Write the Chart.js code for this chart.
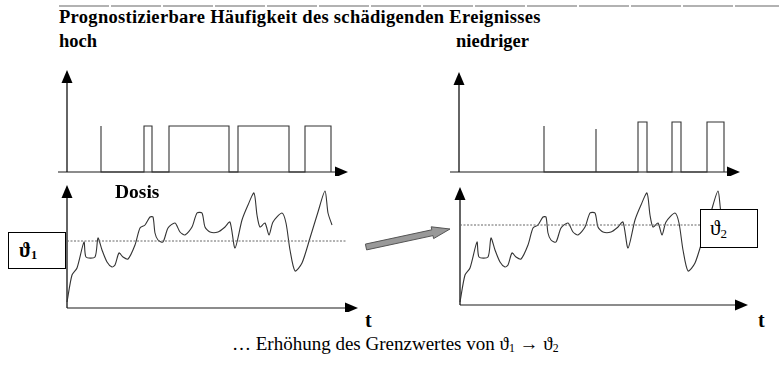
<!DOCTYPE html>
<html>
<head>
<meta charset="utf-8">
<script src="https://cdn.jsdelivr.net/npm/chart.js@4.4.1/dist/chart.umd.min.js"></script>
<style>
  html, body { margin: 0; padding: 0; background: #fff; }
  body { width: 779px; height: 367px; position: relative; overflow: hidden;
         font-family: "Liberation Serif", "Times New Roman", serif; color: #000; }
  canvas { position: absolute; }
  .lbl { position: absolute; line-height: 1; white-space: nowrap; }
  .b { font-weight: bold; }
  .box { position: absolute; border: 1px solid #000; background: #fff; box-sizing: border-box;
         display: flex; align-items: center; }
  sub { font-size: 0.62em; vertical-align: -0.2em; line-height: 0; }
  svg { position: absolute; left: 0; top: 0; }
</style>
</head>
<body>

<svg width="779" height="367">
  <line x1="59" y1="6" x2="779" y2="6" stroke="#999" stroke-width="1.5" stroke-dasharray="50 2"/>
  <polygon points="365.4,244.1 431.8,229.8 431.2,226.8 450,229 433.6,238.6 433,235.6 366.6,249.9"
           fill="#999" stroke="#555" stroke-width="1"/>
</svg>

<canvas id="pulseHigh"></canvas>
<canvas id="pulseLow"></canvas>
<canvas id="doseHigh"></canvas>
<canvas id="doseLow"></canvas>

<div class="lbl b" style="left:59px;top:7.5px;font-size:18.5px;letter-spacing:0.3px;">Prognostizierbare Häufigkeit des schädigenden Ereignisses</div>
<div class="lbl b" style="left:59px;top:31.5px;font-size:18.5px;">hoch</div>
<div class="lbl b" style="left:456px;top:31.5px;font-size:18.5px;">niedriger</div>
<div class="lbl b" style="left:115px;top:182px;font-size:19.5px;">Dosis</div>
<div class="lbl b" style="left:365px;top:310px;font-size:20px;">t</div>
<div class="lbl b" style="left:758px;top:310px;font-size:20px;">t</div>

<div class="box" style="left:8px;top:232px;width:58px;height:37px;padding-left:10px;">
  <span class="b" style="font-size:20px;">ϑ<sub>1</sub></span>
</div>
<div class="box" style="left:700px;top:209px;width:58px;height:39px;padding-left:9px;">
  <span style="font-size:21px;">ϑ<sub>2</sub></span>
</div>

<div class="lbl" style="left:232px;top:334px;font-size:19px;">… Erhöhung des Grenzwertes von ϑ<sub>1</sub> → ϑ<sub>2</sub></div>

<script>
// dose curve (same course in both lower panels), t = time, v = dose above the time axis
const DOSE_T = [0, 5, 10, 17, 19, 28, 31, 35, 40, 45, 48, 52, 56, 61, 68, 73, 78, 83, 86, 88,
                91, 96, 101, 108, 113, 118, 125, 130, 135, 138, 143, 151, 158, 163, 168, 175, 181, 187, 190, 193,
                198, 202, 206, 215, 219, 223, 228, 235, 243, 251, 258, 261, 265];
const DOSE_V = [6, 33, 40, 66, 51, 51, 70, 58, 46, 41, 43, 55, 51, 49, 63, 80, 83, 91, 91, 75,
                68, 66, 80, 85, 76, 73, 81, 95, 95, 81, 76, 76, 81, 86, 60, 88, 103, 115, 93, 81,
                85, 73, 86, 95, 85, 58, 37, 45, 70, 96, 117, 95, 83];

// limit values (threshold) left / right
const THETA_1 = 67;
const THETA_2 = 83;
const THETA_END = 280;

// damaging events: start, end, height
const HIGH_START = [34, 77, 102, 171, 238];
const HIGH_END   = [34, 85, 162, 222, 264];
const HIGH_H     = [46, 46, 46, 46, 46];

const LOW_START = [85, 137, 179, 213, 248];
const LOW_END   = [85, 137, 188, 222, 265];
const LOW_H     = [46, 43, 50, 50, 50];

// where each panel sits on the page (origin of its axes) and how far the arrows reach
const PANELS = {
  pulseHigh: { x0: 67,  y0: 172, xMin: -12, xMax: 284, yMin: -4, yMax: 104, from: -9, xTip: 281, yTip: 102, xAxisAt: 0 },
  pulseLow:  { x0: 459, y0: 172, xMin: -12, xMax: 284, yMin: -4, yMax: 104, from: -9, xTip: 281, yTip: 100, xAxisAt: 0 },
  doseHigh:  { x0: 67,  y0: 308, xMin: -6,  xMax: 294, yMin: -4, yMax: 126, from: 0,  xTip: 291, yTip: 123, xAxisAt: 0 },
  doseLow:   { x0: 460, y0: 308, xMin: -6,  xMax: 294, yMin: -4, yMax: 126, from: 0,  xTip: 288, yTip: 121, xAxisAt: 3 }
};

function pulseSeries(starts, ends, heights) {
  const pts = [];
  starts.forEach((s, i) => {
    pts.push({ x: s, y: 0 }, { x: s, y: heights[i] }, { x: ends[i], y: heights[i] }, { x: ends[i], y: 0 });
  });
  return pts;
}

function doseSeries() {
  return DOSE_T.map((t, i) => ({ x: t, y: DOSE_V[i] }));
}

function head(ctx, x, y, dir) {
  ctx.beginPath();
  if (dir === 'right') {
    ctx.moveTo(x, y); ctx.lineTo(x - 13, y - 5.5); ctx.lineTo(x - 13, y + 5.5);
  } else {
    ctx.moveTo(x, y); ctx.lineTo(x - 5.5, y + 13); ctx.lineTo(x + 5.5, y + 13);
  }
  ctx.closePath();
  ctx.fill();
}

// axes with arrow heads, drawn from the chart's own scales
const arrowAxes = {
  id: 'arrowAxes',
  beforeDatasetsDraw(chart, args, o) {
    const { ctx, scales: { x, y } } = chart;
    const ox = x.getPixelForValue(0);
    const oy = y.getPixelForValue(o.xAxisAt);
    const xs = x.getPixelForValue(o.from);
    const xt = x.getPixelForValue(o.xTip);
    const yt = y.getPixelForValue(o.yTip);
    ctx.save();
    ctx.lineWidth = 1.3;
    ctx.strokeStyle = '#666';
    ctx.beginPath(); ctx.moveTo(xs, oy); ctx.lineTo(xt - 8, oy); ctx.stroke();
    ctx.strokeStyle = '#111';
    ctx.beginPath(); ctx.moveTo(ox, oy); ctx.lineTo(ox, yt + 8); ctx.stroke();
    ctx.fillStyle = '#000';
    head(ctx, xt, oy, 'right');
    head(ctx, ox, yt, 'up');
    ctx.restore();
  }
};

function makeChart(id, datasets) {
  const p = PANELS[id];
  const cv = document.getElementById(id);
  cv.width = p.xMax - p.xMin;
  cv.height = p.yMax - p.yMin;
  cv.style.left = (p.x0 + p.xMin) + 'px';
  cv.style.top = (p.y0 - p.yMax) + 'px';
  new Chart(cv, {
    type: 'line',
    data: { datasets },
    options: {
      responsive: false,
      animation: false,
      events: [],
      layout: { padding: 0 },
      elements: { point: { radius: 0 } },
      plugins: {
        legend: { display: false },
        tooltip: { enabled: false },
        arrowAxes: { from: p.from, xTip: p.xTip, yTip: p.yTip, xAxisAt: p.xAxisAt }
      },
      scales: {
        x: { type: 'linear', display: false, min: p.xMin, max: p.xMax },
        y: { type: 'linear', display: false, min: p.yMin, max: p.yMax }
      }
    },
    plugins: [arrowAxes]
  });
}

function thresholdSet(v) {
  return { data: [{ x: 0, y: v }, { x: THETA_END, y: v }], borderColor: '#666', borderWidth: 1, borderDash: [2, 1.5] };
}

function doseSet() {
  return { data: doseSeries(), borderColor: '#333', borderWidth: 1.1, tension: 0.25 };
}

makeChart('pulseHigh', [{ data: pulseSeries(HIGH_START, HIGH_END, HIGH_H), borderColor: '#333', borderWidth: 1.1, tension: 0 }]);
makeChart('pulseLow',  [{ data: pulseSeries(LOW_START, LOW_END, LOW_H), borderColor: '#333', borderWidth: 1.1, tension: 0 }]);
makeChart('doseHigh',  [thresholdSet(THETA_1), doseSet()]);
makeChart('doseLow',   [thresholdSet(THETA_2), doseSet()]);
</script>
</body>
</html>
